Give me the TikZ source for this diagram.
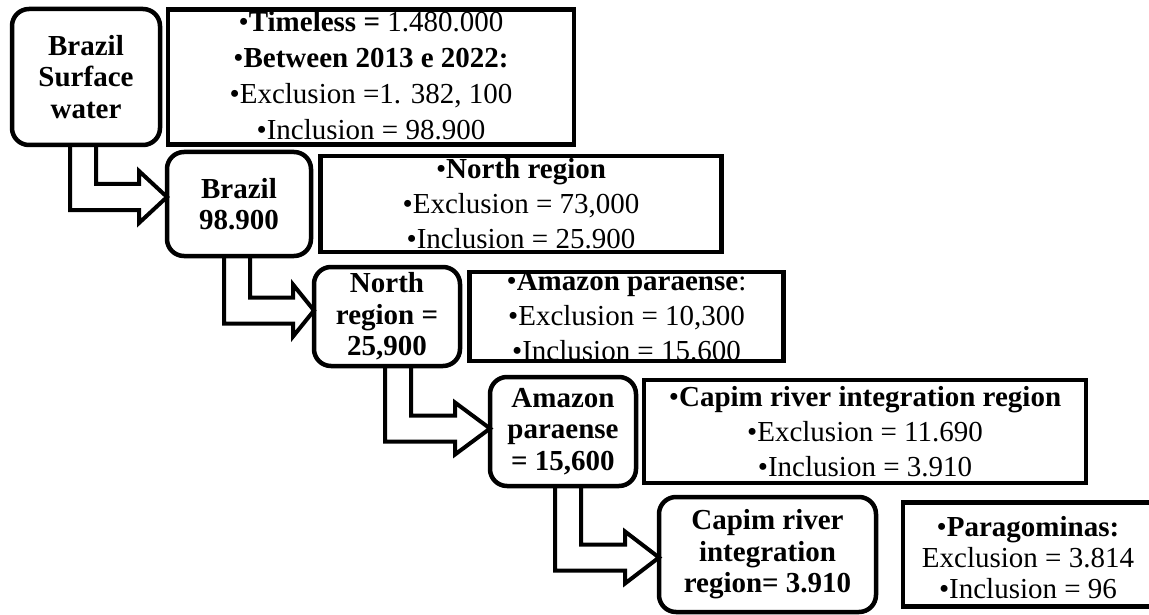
\documentclass[tikz,border=0pt]{standalone}
\usepackage{fontspec}
\setmainfont{Liberation Serif}
\usetikzlibrary{positioning, calc}

\begin{document}
\begin{tikzpicture}[x=1pt, y=-1pt, node distance=8pt,
    stepbox/.style={draw, line width=4.5pt, fill=white, rounded corners=17pt,
      outer sep=0pt, inner sep=0pt, align=center,
      font=\fontsize{29}{31.5}\selectfont\bfseries},
    infobox/.style={draw, line width=4.5pt, fill=white, outer sep=0pt,
      inner sep=0pt},
    infotext/.style={align=center, inner sep=0pt,
      font=\fontsize{29}{35}\selectfont},
    bentarrow/.style={draw, line width=4pt, line join=miter}]
  \useasboundingbox (0,0) rectangle (1149,615);

  % steps
  \node[stepbox, anchor=north west, minimum width=148pt, minimum height=136pt]
        (a) at (12,9) {Brazil\\Surface\\water};
  \node[stepbox, anchor=north west, minimum width=144pt, minimum height=104pt]
        (b) at (167,152) {Brazil\\98.900};
  \node[stepbox, anchor=north west, minimum width=146pt, minimum height=99pt]
        (c) at (314,267) {North\\region =\\25,900};
  \node[stepbox, anchor=north west, minimum width=146pt, minimum height=109pt]
        (d) at (490,377) {Amazon\\paraense\\= 15,600};
  \node[stepbox, anchor=north west, minimum width=217pt, minimum height=115pt]
        (e) at (659,497) {Capim river\\integration\\region= 3.910};

  % figures beside each step
  \node[infobox, minimum width=406pt, minimum height=135pt, right=of a] (i1) {};
  \node[infobox, minimum width=401pt, minimum height=96pt, right=9.5pt of b] (i2) {};
  \node[infobox, minimum width=314pt, minimum height=89pt, right=9.5pt of c] (i3) {};
  \node[infobox, minimum width=442pt, minimum height=103pt, right=of d] (i4) {};
  \node[infobox, minimum width=250pt, minimum height=104pt, right=27pt of e] (i5) {};

  \node[infotext, font=\fontsize{29}{36}\selectfont, yshift=1pt] (i1t) at (i1)
        {•\textbf{Timeless =} 1.480.000\\•\textbf{Between 2013 e 2022:}\\
         •Exclusion =1. 382, 100\\•Inclusion = 98.900};
  \node[infotext] (i2t) at (i2)
        {•\textbf{North region}\\•Exclusion = 73,000\\•Inclusion = 25.900};
  \node[infotext] (i3t) at (i3)
        {•\textbf{Amazon paraense}:\\•Exclusion = 10,300\\•Inclusion = 15.600};
  \node[infotext] (i4t) at (i4)
        {•\textbf{Capim river integration region}\\•Exclusion = 11.690\\
         •Inclusion = 3.910};
  \node[infotext, font=\fontsize{29}{31}\selectfont, yshift=-3pt] (i5t) at (i5)
        {•\textbf{Paragominas:}\\Exclusion = 3.814\\•Inclusion = 96};

  % bent arrows
  \foreach \src/\dst/\off/\hl/\dy in {a/b/58/28/-7, b/c/57/21/-6, c/d/71/35/-3, d/e/65/34/3}
    \draw[bentarrow] ($(\src.south west)+(\off,0)$) |- ($(\dst.west)+(-\hl,\dy+13)$)
      -- ++(0,13) -- ($(\dst.west)+(0,\dy)$) -- ($(\dst.west)+(-\hl,\dy-26)$)
      -- ++(0,13) -| ($(\src.south west)+(\off+26,0)$);
\end{tikzpicture}
\end{document}
